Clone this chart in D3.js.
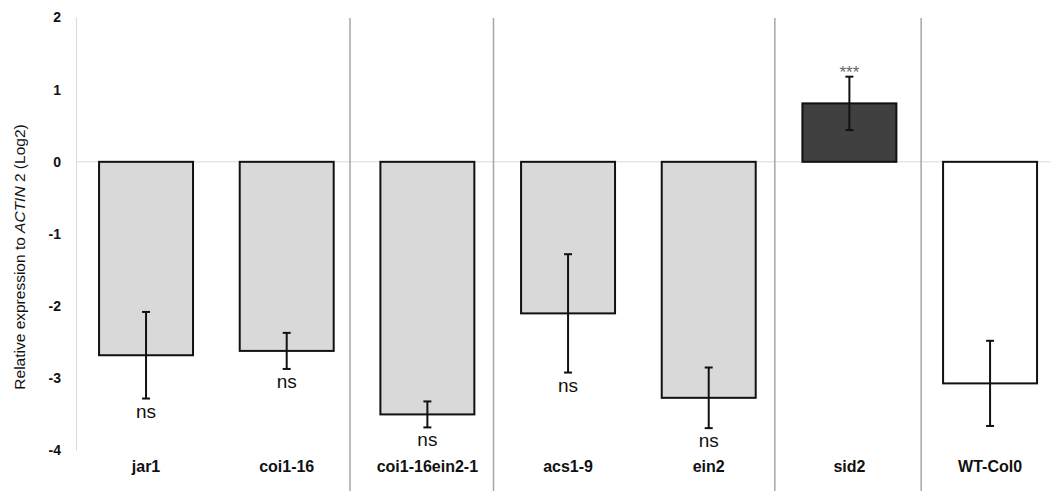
<!DOCTYPE html>
<html><head><meta charset="utf-8">
<script src="https://cdn.jsdelivr.net/npm/d3@7"></script>
<style>html,body{margin:0;padding:0;background:#fff;}svg{display:block;font-family:"Liberation Sans",Arial,sans-serif;}</style>
</head><body>
<script>
const categories = ["jar1","coi1-16","coi1-16ein2-1","acs1-9","ein2","sid2","WT-Col0"];
const means = [-2.68,-2.62,-3.50,-2.10,-3.27,0.81,-3.07];
const errors = [0.60,0.25,0.18,0.82,0.42,0.37,0.59];
const annotations = ["ns","ns","ns","ns","ns","***",""];
const fills = ["#d9d9d9","#d9d9d9","#d9d9d9","#d9d9d9","#d9d9d9","#404040","#ffffff"];
const yTicks = [2,1,0,-1,-2,-3,-4];
const separatorPositions = [1.95,2.97,4.97,6.01]; // in category units

const W=1050,H=491;
const svg=d3.select("body").append("svg").attr("width",W).attr("height",H);
const x=d3.scaleBand().domain(categories).range([75.7,1060.4]).paddingInner(0.332).paddingOuter(0.166);
const xu=d3.scaleLinear().domain([0,categories.length]).range([75.7,1060.4]);
const y=d3.scaleLinear().domain([-4,2]).range([450.5,17.5]);

svg.append("line").attr("x1",76).attr("x2",W).attr("y1",y(0)).attr("y2",y(0)).attr("stroke","#d9d9d9").attr("stroke-width",1);
svg.append("line").attr("x1",76.5).attr("x2",76.5).attr("y1",y(2)).attr("y2",y(-4)).attr("stroke","#d9d9d9").attr("stroke-width",1);
svg.selectAll("line.sep").data(separatorPositions).enter().append("line").attr("class","sep")
 .attr("x1",d=>xu(d)).attr("x2",d=>xu(d)).attr("y1",18).attr("y2",H).attr("stroke","#a6a6a6").attr("stroke-width",1.5);

svg.selectAll("text.yt").data(yTicks).enter().append("text").attr("class","yt")
 .attr("x",61).attr("y",d=>y(d)).attr("dy","0.35em").attr("text-anchor","end")
 .attr("font-size",14).attr("font-weight","bold").attr("fill","#111").text(d=>d);

const yt=svg.append("text").attr("transform","translate(25,257) rotate(-90)").attr("text-anchor","middle")
 .attr("font-size",15.5).attr("fill","#111");
yt.append("tspan").text("Relative expression to ");
yt.append("tspan").attr("font-style","italic").text("ACTIN");
yt.append("tspan").text(" 2 (Log2)");

const data=categories.map((c,i)=>({c,m:means[i],e:errors[i],a:annotations[i],f:fills[i]}));
svg.selectAll("rect.bar").data(data).enter().append("rect").attr("class","bar")
 .attr("x",d=>x(d.c)).attr("width",x.bandwidth())
 .attr("y",d=>Math.min(y(d.m),y(0))).attr("height",d=>Math.abs(y(d.m)-y(0)))
 .attr("fill",d=>d.f).attr("stroke","#111").attr("stroke-width",2);

const g=svg.selectAll("g.err").data(data).enter().append("g").attr("class","err");
const cx=d=>x(d.c)+x.bandwidth()/2;
g.append("line").attr("x1",cx).attr("x2",cx).attr("y1",d=>y(d.m+d.e)).attr("y2",d=>y(d.m-d.e)).attr("stroke","#111").attr("stroke-width",2);
g.append("line").attr("x1",d=>cx(d)-4).attr("x2",d=>cx(d)+4).attr("y1",d=>y(d.m+d.e)).attr("y2",d=>y(d.m+d.e)).attr("stroke","#111").attr("stroke-width",2);
g.append("line").attr("x1",d=>cx(d)-4).attr("x2",d=>cx(d)+4).attr("y1",d=>y(d.m-d.e)).attr("y2",d=>y(d.m-d.e)).attr("stroke","#111").attr("stroke-width",2);

svg.selectAll("text.ann").data(data.filter(d=>d.a)).enter().append("text").attr("class","ann")
 .attr("x",cx).attr("text-anchor","middle")
 .attr("y",d=>d.m<0? y(d.m-d.e)+19 : y(d.m+d.e)+1)
 .attr("font-size",d=>d.m<0?19:17).attr("fill",d=>d.m<0?"#111":"#666").text(d=>d.a);

svg.selectAll("text.xl").data(categories).enter().append("text").attr("class","xl")
 .attr("x",d=>x(d)+x.bandwidth()/2).attr("y",472).attr("text-anchor","middle")
 .attr("font-size",16).attr("font-weight","bold").attr("fill","#111").text(d=>d);
</script>
</body></html>
